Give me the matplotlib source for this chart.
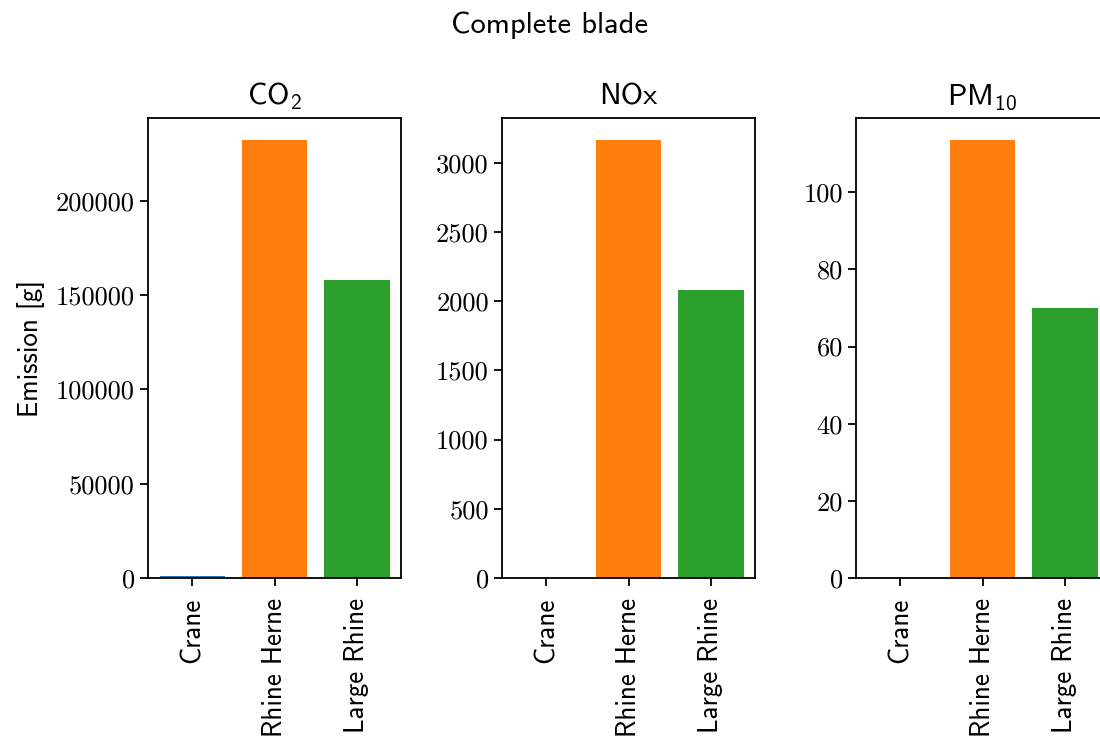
import matplotlib
matplotlib.use("Agg")
import matplotlib.pyplot as plt

plt.rcParams["mathtext.fontset"] = "custom"
plt.rcParams["mathtext.rm"] = "cmss10"
plt.rcParams["mathtext.it"] = "cmss10"
plt.rcParams["axes.unicode_minus"] = False

# data
vessels = ['Crane', 'Rhine Herne', 'Large Rhine']
co2 = [1000, 232400, 158000]
nox = [2, 3165, 2080]
pm10 = [0.1, 113.6, 70]
titles = ['CO$_2$', 'NOx', 'PM$_{10}$']

colors = ['#1f77b4', '#ff7f0e', '#2ca02c']

fig = plt.figure(figsize=(11, 7.38), dpi=100)

# axes placed by hand, the last panel runs past the right edge like the original
W, H = 1100, 738
lefts = [148, 502, 856]
ax_w, bottom, top = 253, 578, 118

tick_fs = 19
label_fs = 19.5
title_fs = 22

for i, (vals, title) in enumerate(zip([co2, nox, pm10], titles)):
    ax = fig.add_axes([lefts[i] / W, (H - bottom) / H, ax_w / W, (bottom - top) / H])
    ax.bar(vessels, vals, color=colors)
    ax.set_title(title, fontsize=title_fs, family='cmss10', pad=10)
    ax.set_xticks(range(len(vessels)))
    ax.set_xticklabels(vessels, rotation=90, fontsize=label_fs, family='cmss10')
    for lab in ax.get_yticklabels():
        lab.set_family('cmr10')
        lab.set_fontsize(tick_fs)
    ax.tick_params(width=1.3, length=6)
    ax.tick_params(axis='x', pad=8)
    for sp in ax.spines.values():
        sp.set_linewidth(1.3)
    if i == 0:
        ax.set_ylabel('Emission [g]', fontsize=label_fs, family='cmss10', labelpad=8)

fig.suptitle('Complete blade', fontsize=title_fs, family='cmss10', y=0.985)

plt.savefig('out.png', dpi=100)
